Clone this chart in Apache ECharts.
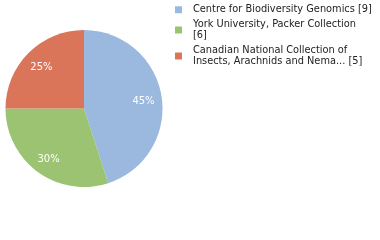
<!DOCTYPE html>
<html><head><meta charset="utf-8">
<script src="https://cdn.jsdelivr.net/npm/echarts@6/dist/echarts.min.js"></script>
<style>html,body{margin:0;padding:0;background:#fff}#c{width:380px;height:240px}</style>
</head><body><div id="c"></div>
<script>
const categories = [
  "Centre for Biodiversity Genomics [9]",
  "York University, Packer Collection\n[6]",
  "Canadian National Collection of\nInsects, Arachnids and Nema... [5]"
];
const values = [9, 6, 5];
const colors = ["#9bb8df", "#9cc372", "#da755a"];

const data = categories.map((n, i) => ({ name: n, value: values[i], itemStyle: { color: colors[i] } }));
const total = values.reduce((a, b) => a + b, 0);

const chart = echarts.init(document.getElementById('c'), null, { renderer: 'canvas' });
chart.setOption({
  animation: false,
  legend: {
    orient: 'vertical', left: 175, top: 4, padding: 0,
    icon: 'rect', itemWidth: 7, itemHeight: 7, itemGap: 3,
    textStyle: { fontFamily: 'DejaVu Sans', fontSize: 9.8, color: '#222', lineHeight: 11.5, padding: [0, 0, 0, 6] },
    data: categories
  },
  series: [
    {
      type: 'pie', center: [84, 108.5], radius: [0, 78.5], startAngle: 90, clockwise: true,
      silent: true, label: { show: false }, labelLine: { show: false },
      data: data
    },
    {
      type: 'pie', center: [84, 108.5], radius: [36, 78.5], startAngle: 90, clockwise: true,
      silent: true, legendHoverLink: false,
      itemStyle: { color: 'rgba(0,0,0,0)' },
      label: {
        show: true, position: 'inside', color: '#fff', fontFamily: 'DejaVu Sans', fontSize: 10,
        offset: [0, 2],
        formatter: p => Math.round(p.value / total * 100) + '%'
      },
      labelLine: { show: false },
      data: categories.map((n, i) => ({ name: n + ' ', value: values[i], itemStyle: { color: 'rgba(0,0,0,0)' } }))
    }
  ]
});
</script></body></html>
